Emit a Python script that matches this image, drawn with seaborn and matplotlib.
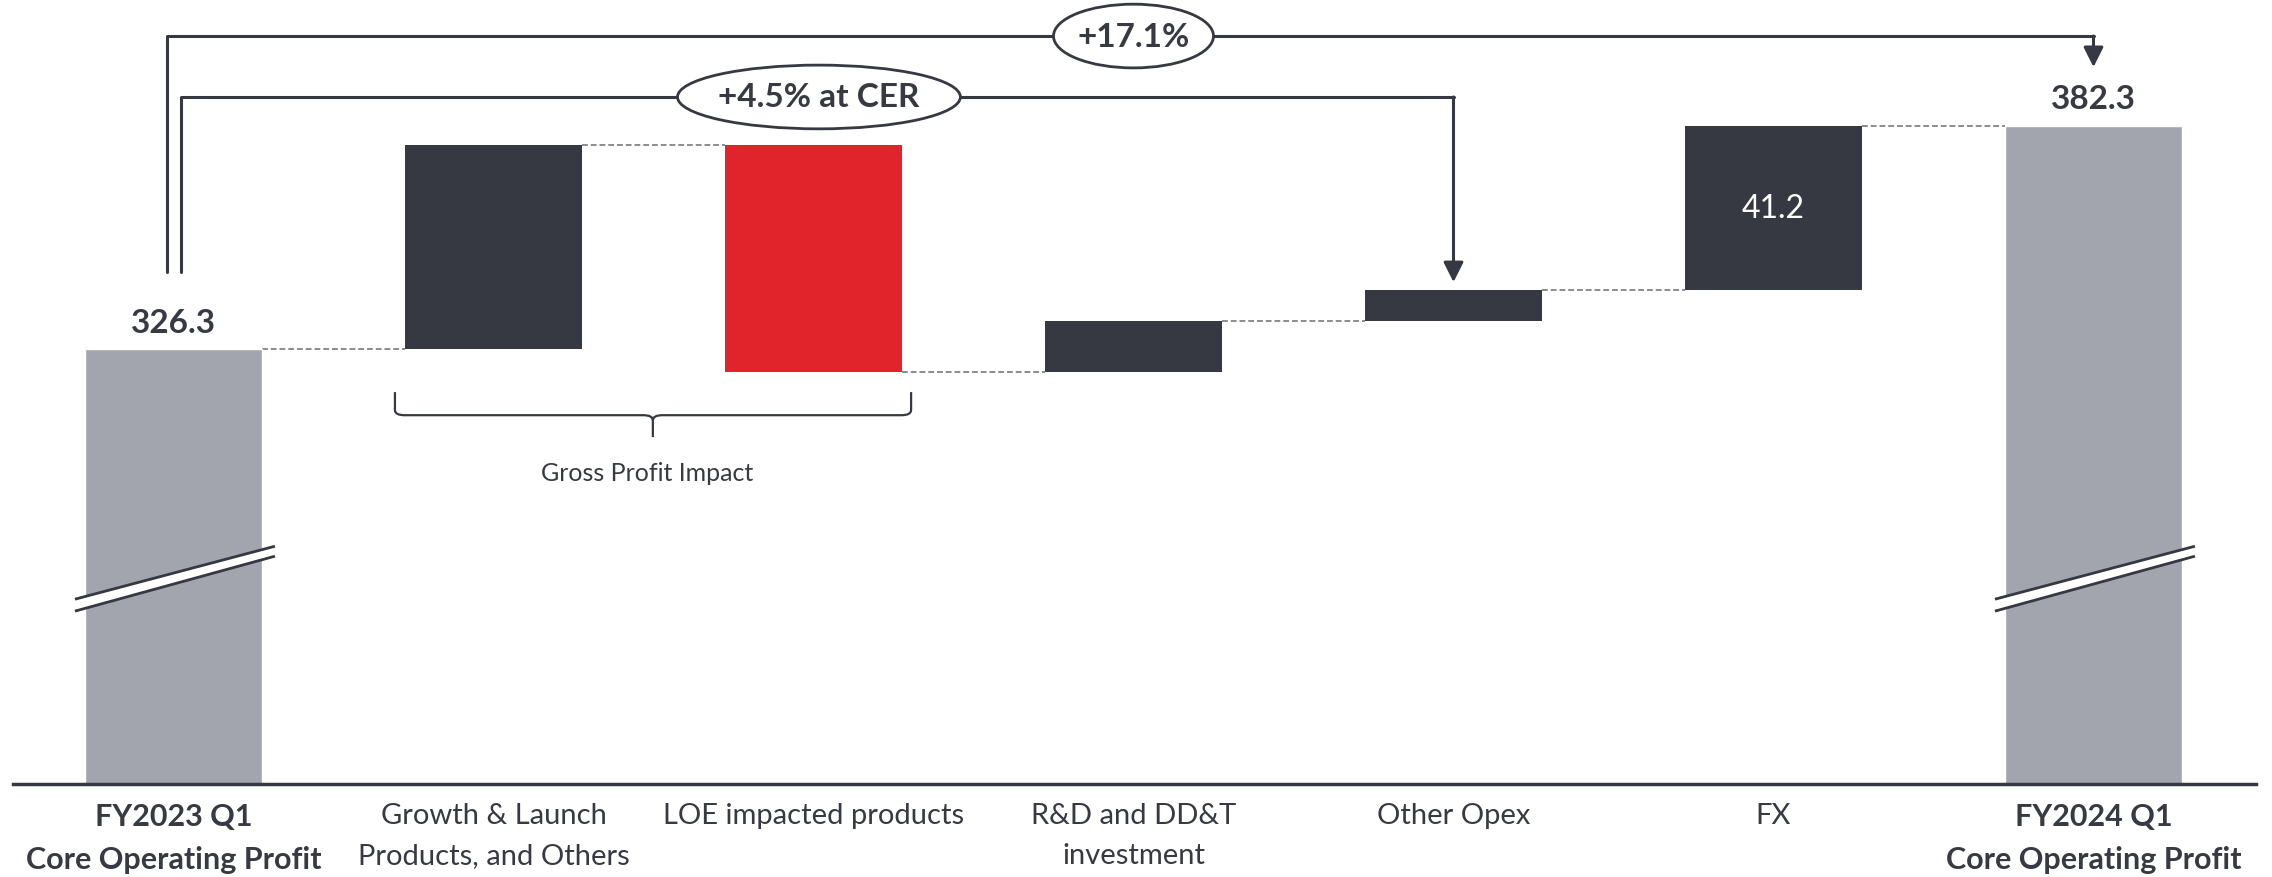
import matplotlib
matplotlib.use("Agg")
import matplotlib.pyplot as plt
import seaborn as sns
import numpy as np
import pandas as pd
from matplotlib.patches import Ellipse, PathPatch, Polygon
from matplotlib.path import Path

# ---------------- data ----------------
categories = ["FY2023 Q1\nCore Operating Profit",
              "Growth & Launch\nProducts, and Others",
              "LOE impacted products",
              "R&D and DD&T\ninvestment",
              "Other Opex",
              "FX",
              "FY2024 Q1\nCore Operating Profit"]
start_value = 326.3
deltas = [51.3, -57.0, 12.8, 7.7, 41.2]
end_value = 382.3
start_label = "326.3"
end_label = "382.3"
fx_label = "41.2"
total_change_label = "+17.1%"
cer_change_label = "+4.5% at CER"
bracket_label = "Gross Profit Impact"

# ---------------- style ----------------
sns.set_theme(style="white")
plt.rcParams['font.family'] = ['Lato', 'DejaVu Sans']

DARK = "#363842"
RED = "#E1232B"
GRAY = "#A2A5AD"
TEXT = "#383a43"
W = 0.553

fig = plt.figure(figsize=(22.72, 8.78), dpi=100)
ax = fig.add_axes([0, 1 - 785 / 878, 1, 785 / 878])

# totals via seaborn
df_tot = pd.DataFrame({"cat": [categories[0], categories[-1]],
                       "value": [start_value, end_value]})
sns.barplot(data=df_tot, x="cat", y="value", order=categories, color=GRAY,
            saturation=1, width=W, ax=ax, zorder=2)

# floating bars
running = [start_value]
for d in deltas:
    running.append(running[-1] + d)
for i, d in enumerate(deltas):
    ax.bar(i + 1, d, bottom=running[i], width=W,
           color=DARK if d >= 0 else RED, zorder=2, linewidth=0)

# connectors
for i in range(len(running)):
    ax.plot([i + W / 2, i + 1 - W / 2], [running[i], running[i]],
            color="#8c8c8c", lw=1.4, ls=(0, (3, 1.5)), zorder=1)

ax.set_ylim(217.1, 414.2)
ax.set_xlim(-173.5 / 320, (2272 - 173.5) / 320)

for s in ["top", "left", "right"]:
    ax.spines[s].set_visible(False)
ax.spines["bottom"].set_color(DARK)
ax.spines["bottom"].set_linewidth(2.5)
ax.spines["bottom"].set_bounds(-0.502, 6.508)
ax.set_yticks([])
ax.set_xlabel("")
ax.set_ylabel("")
ax.set_xticks(range(len(categories)))
ax.set_xticklabels(categories, fontsize=21, color=TEXT, linespacing=1.65)
ax.tick_params(axis="x", length=0, pad=13)
for i in (0, len(categories) - 1):
    ax.get_xticklabels()[i].set_fontweight("bold")
    ax.get_xticklabels()[i].set_fontsize(22)

# value labels
ax.text(0, start_value + 6.8, start_label, ha="center", va="center",
        fontsize=24, fontweight="bold", color=TEXT)
ax.text(6, end_value + 6.8, end_label, ha="center", va="center",
        fontsize=24, fontweight="bold", color=TEXT)
ax.text(5, (running[4] + running[5]) / 2, fx_label, ha="center", va="center",
        fontsize=23, color="white", zorder=4)

# break marks
for xc in (0, 6):
    xa, xb = xc - 0.308, xc + 0.317
    top_a, top_b = 263.5, 276.8
    bot_a, bot_b = 260.5, 274.3
    ax.add_patch(Polygon([[xa, top_a], [xb, top_b], [xb, bot_b], [xa, bot_a]],
                         closed=True, facecolor="white", edgecolor="none", zorder=3))
    ax.plot([xa, xb], [top_a, top_b], color=DARK, lw=2, zorder=4, solid_capstyle="butt")
    ax.plot([xa, xb], [bot_a, bot_b], color=DARK, lw=2, zorder=4, solid_capstyle="butt")

# outer bracket (+17.1%)
y_out = 404.9
y_in = 389.6
y_start = 345.6
ax.plot([-0.021, -0.021, 6.0], [y_start, y_out, y_out], color=DARK, lw=2.2, zorder=3)
ax.annotate("", xy=(6.0, end_value + 14.8), xytext=(6.0, y_out),
            arrowprops=dict(arrowstyle="-|>,head_length=0.6,head_width=0.3",
                            color=DARK, lw=2.2, shrinkA=0, shrinkB=0,
                            mutation_scale=20), zorder=3)
ax.add_patch(Ellipse((3.0, y_out), 0.5, 16.0, facecolor="white",
                     edgecolor=DARK, lw=2, zorder=5))
ax.text(3.0, y_out, total_change_label, ha="center", va="center",
        fontsize=24, fontweight="bold", color=TEXT, zorder=6)

# inner bracket (+4.5% at CER)
ax.plot([0.023, 0.023, 4.0], [y_start, y_in, y_in], color=DARK, lw=2.2, zorder=3)
ax.annotate("", xy=(4.0, running[4] + 2.0), xytext=(4.0, y_in),
            arrowprops=dict(arrowstyle="-|>,head_length=0.6,head_width=0.3",
                            color=DARK, lw=2.2, shrinkA=0, shrinkB=0,
                            mutation_scale=20), zorder=3)
ax.add_patch(Ellipse((2.017, y_in), 0.884, 16.0, facecolor="white",
                     edgecolor=DARK, lw=2, zorder=5))
ax.text(2.017, y_in, cer_change_label, ha="center", va="center",
        fontsize=24, fontweight="bold", color=TEXT, zorder=6)

# curly bracket for Gross Profit Impact
x0, x1, xc = 0.692, 2.305, 1.498
yt, ym, yb = 315.5, 309.7, 304.2
dx, dy = 0.03, 1.3
verts = [(x0, yt), (x0, ym + dy), (x0, ym), (x0 + dx, ym), (xc - dx, ym),
         (xc, ym), (xc, ym - dy), (xc, yb),
         (xc, ym - dy), (xc, ym), (xc + dx, ym), (x1 - dx, ym),
         (x1, ym), (x1, ym + dy), (x1, yt)]
codes = [Path.MOVETO, Path.LINETO, Path.CURVE3, Path.CURVE3, Path.LINETO,
         Path.CURVE3, Path.CURVE3, Path.LINETO,
         Path.MOVETO, Path.CURVE3, Path.CURVE3, Path.LINETO,
         Path.CURVE3, Path.CURVE3, Path.LINETO]
ax.add_patch(PathPatch(Path(verts, codes), facecolor="none", edgecolor=DARK, lw=1.6, zorder=3))
ax.text(1.48, 295.4, bracket_label, ha="center", va="center", fontsize=18, color=TEXT)

fig.savefig("out.png", dpi=100)
